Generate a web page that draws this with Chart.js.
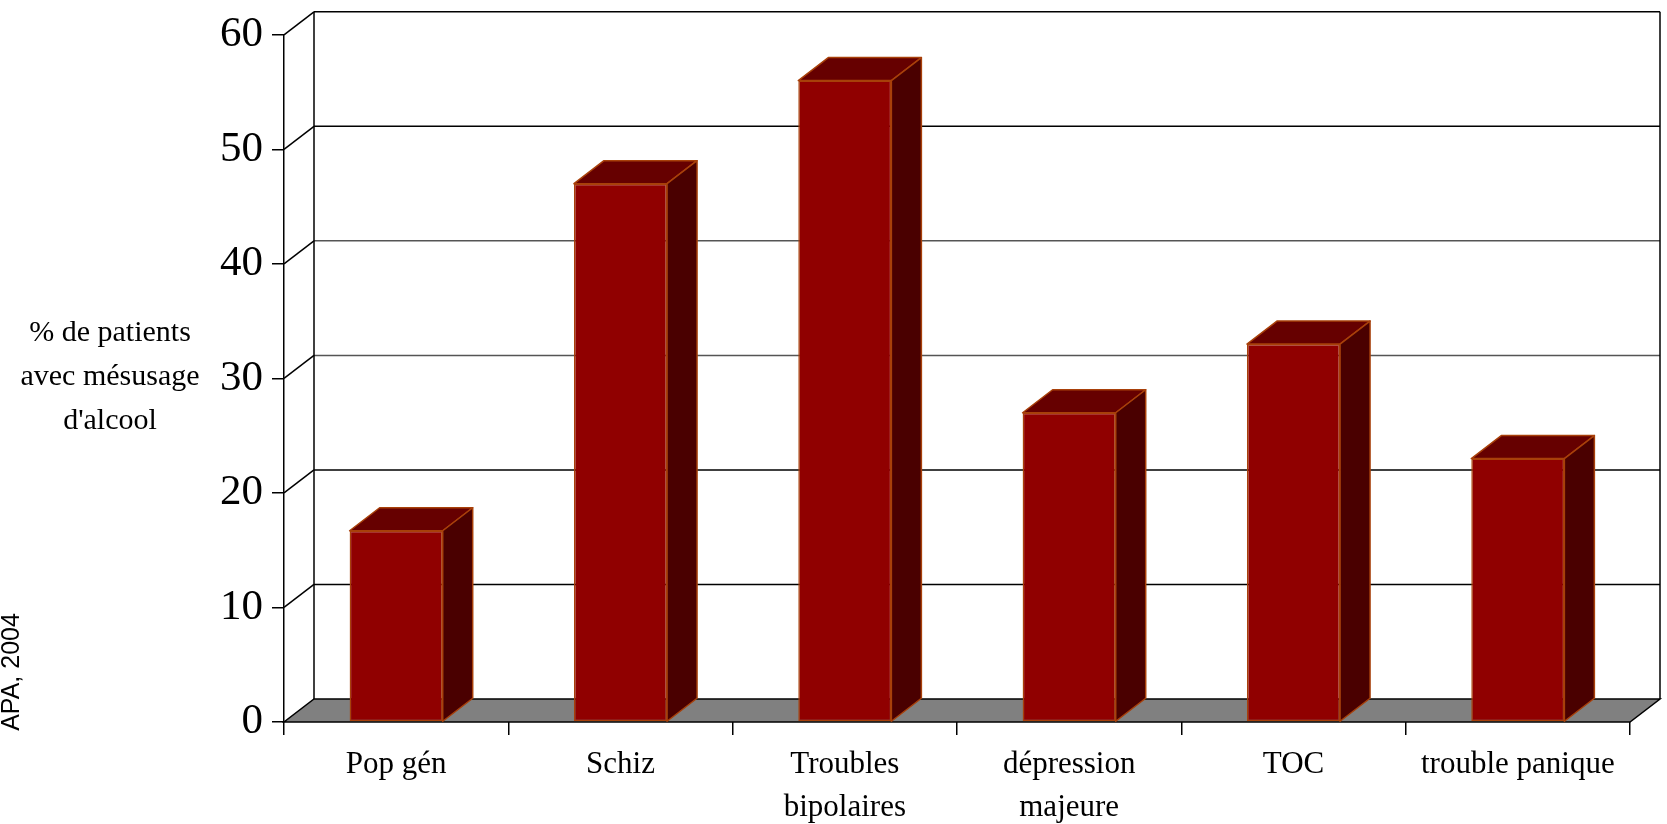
<!DOCTYPE html>
<html>
<head>
<meta charset="utf-8">
<script src="https://cdn.jsdelivr.net/npm/chart.js@4.4.1/dist/chart.umd.min.js"></script>
<style>
  html, body { margin: 0; padding: 0; background: #fff; }
</style>
</head>
<body>
<canvas id="alcohol-graph" width="1667" height="824"></canvas>
<script>
const categories = [['Pop gén'], ['Schiz'], ['Troubles', 'bipolaires'], ['dépression', 'majeure'], ['TOC'], ['trouble panique']];
const values = [16.7, 47, 56, 27, 33, 23];
const yMin = 0;
const yMax = 60;
const yStep = 10;
const yTitleLines = ['% de patients', 'avec mésusage', "d'alcool"];
const sourceNote = 'APA, 2004';

// depth of the fake 3d box
const DX = 30;
const DY = -23;

const FRONT = 'rgb(144, 0, 0)';
const TOP = 'rgb(102, 0, 0)';
const SIDE = 'rgb(74, 0, 0)';
const EDGE = 'rgb(168, 64, 10)';
const SERIF = '"Liberation Serif", "DejaVu Serif", serif';

function line(ctx, x1, y1, x2, y2) {
  ctx.beginPath();
  ctx.moveTo(x1, y1);
  ctx.lineTo(x2, y2);
  ctx.stroke();
}

const box3d = {
  id: 'box3d',
  beforeDatasetsDraw(chart) {
    const { ctx, chartArea: a, scales: { y } } = chart;
    ctx.save();
    ctx.strokeStyle = '#000';
    ctx.lineWidth = 1.5;

    // floor
    ctx.fillStyle = '#808080';
    ctx.beginPath();
    ctx.moveTo(a.left, a.bottom);
    ctx.lineTo(a.right, a.bottom);
    ctx.lineTo(a.right + DX, a.bottom + DY);
    ctx.lineTo(a.left + DX, a.bottom + DY);
    ctx.closePath();
    ctx.fill();
    ctx.stroke();

    // back wall grid + left wall diagonals
    y.ticks.forEach(t => {
      if (t.value === yMin) return;
      const py = y.getPixelForValue(t.value);
      ctx.strokeStyle = (t.value === 30 || t.value === 40) ? '#555' : '#000';
      line(ctx, a.left + DX, py + DY, a.right + DX, py + DY);
      ctx.strokeStyle = '#000';
      line(ctx, a.left, py, a.left + DX, py + DY);
    });

    line(ctx, a.left + DX, a.top + DY, a.left + DX, a.bottom + DY);
    line(ctx, a.right + DX, a.top + DY, a.right + DX, a.bottom + DY);
    ctx.restore();
  },
  afterDatasetsDraw(chart) {
    const ctx = chart.ctx;
    ctx.save();
    ctx.strokeStyle = EDGE;
    ctx.lineWidth = 1.5;
    ctx.lineJoin = 'round';
    chart.getDatasetMeta(0).data.forEach(bar => {
      const { x, y, base, width } = bar.getProps(['x', 'y', 'base', 'width'], true);
      const l = x - width / 2;
      const r = x + width / 2;

      ctx.fillStyle = TOP;
      ctx.beginPath();
      ctx.moveTo(l, y);
      ctx.lineTo(r, y);
      ctx.lineTo(r + DX, y + DY);
      ctx.lineTo(l + DX, y + DY);
      ctx.closePath();
      ctx.fill();
      ctx.stroke();

      ctx.fillStyle = SIDE;
      ctx.beginPath();
      ctx.moveTo(r, y);
      ctx.lineTo(r + DX, y + DY);
      ctx.lineTo(r + DX, base + DY);
      ctx.lineTo(r, base);
      ctx.closePath();
      ctx.fill();
      ctx.stroke();
    });
    ctx.restore();
  },
  afterDraw(chart) {
    const ctx = chart.ctx;
    ctx.save();
    ctx.fillStyle = '#000';
    ctx.font = '30px ' + SERIF;
    ctx.textAlign = 'center';
    ctx.textBaseline = 'middle';
    yTitleLines.forEach((txt, i) => {
      ctx.fillText(txt, 110, 333 + i * 44);
    });

    ctx.font = '25px "Liberation Sans", Arial, sans-serif';
    ctx.translate(12, 672);
    ctx.rotate(-Math.PI / 2);
    ctx.fillText(sourceNote, 0, 0);
    ctx.restore();
  }
};

const ctx = document.getElementById('alcohol-graph').getContext('2d');

new Chart(ctx, {
  type: 'bar',
  data: {
    labels: categories,
    datasets: [{
      data: values,
      backgroundColor: FRONT,
      borderColor: EDGE,
      borderWidth: 1.5,
      borderSkipped: false,
      barPercentage: 0.415,
      categoryPercentage: 1.0
    }]
  },
  options: {
    responsive: false,
    devicePixelRatio: 1,
    animation: false,
    layout: {
      padding: { top: 31, right: 37, left: 0, bottom: 0 }
    },
    scales: {
      x: {
        offset: true,
        grid: {
          offset: true,
          drawOnChartArea: false,
          drawTicks: true,
          tickLength: 13,
          color: '#000',
          lineWidth: 1.5
        },
        border: { display: false },
        ticks: {
          color: '#000',
          font: { family: SERIF, size: 31, lineHeight: 1.4 },
          padding: 8,
          maxRotation: 0,
          autoSkip: false
        },
        afterFit: scale => { scale.height = 102; }
      },
      y: {
        min: yMin,
        max: yMax,
        grid: {
          drawOnChartArea: false,
          drawTicks: true,
          tickLength: 12,
          color: '#000',
          lineWidth: 1.5
        },
        border: { display: true, color: '#000', width: 1.5 },
        ticks: {
          stepSize: yStep,
          color: '#000',
          font: { family: SERIF, size: 43 },
          padding: 9
        },
        afterFit: scale => { scale.width = 284; }
      }
    },
    plugins: {
      legend: { display: false },
      tooltip: { enabled: false },
      title: { display: false }
    }
  },
  plugins: [box3d]
});
</script>
</body>
</html>
